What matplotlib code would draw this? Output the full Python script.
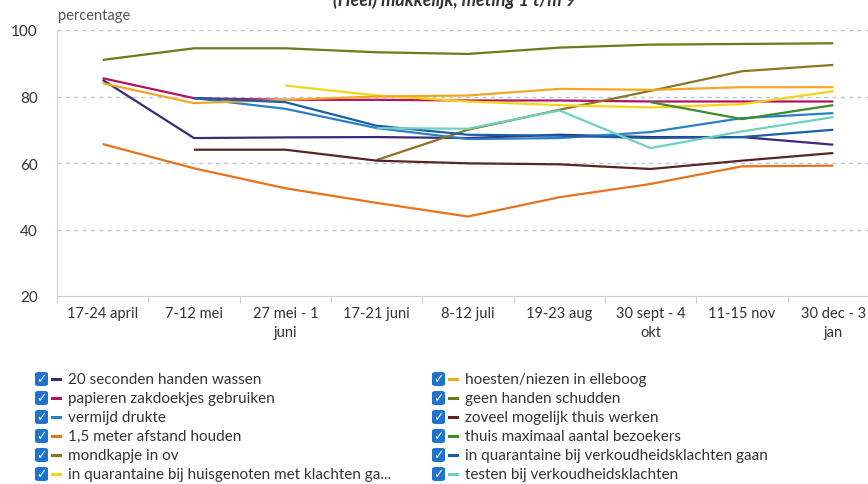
import numpy as np
import matplotlib
matplotlib.use("Agg")
import matplotlib.pyplot as plt
from matplotlib.patches import FancyBboxPatch
from matplotlib.lines import Line2D

nan = np.nan

categories = ["17-24 april", "7-12 mei", "27 mei - 1\njuni", "17-21 juni", "8-12 juli",
              "19-23 aug", "30 sept - 4\nokt", "11-15 nov", "30 dec - 3\njan"]

handen_wassen = [85, 67.5, 67.7, 67.8, 67.5, 68.5, 67.8, 67.8, 65.5]
zakdoekjes = [85.5, 79.5, 79, 79, 78.8, 78.8, 78.5, 78.5, 78.5]
vermijd_drukte = [nan, 79.5, 76.3, 70.5, 67.2, 67.5, 69.3, 73.5, 75]
afstand = [65.7, 58.4, 52.4, 48, 43.9, 49.7, 53.7, 59, 59.2]
mondkapje = [nan, nan, nan, 60.9, 70, 76, 81.7, 87.6, 89.5]
quarantaine_huisgenoten = [nan, nan, 83.3, 80.3, 78.5, 77.4, 76.7, 77.7, 81.6]
hoesten = [84, 78, 79, 80, 80.3, 82.3, 82, 82.8, 82.8]
geen_handen = [91, 94.5, 94.5, 93.3, 92.8, 94.7, 95.6, 95.8, 96]
thuiswerken = [nan, 64, 64, 60.7, 59.9, 59.6, 58.2, 60.7, 63]
bezoekers = [nan, nan, nan, nan, nan, nan, 78.3, 73.2, 77.4]
quarantaine_klachten = [nan, 79.5, 78.3, 71.2, 68.5, 68.2, 67.5, 67.8, 70]
testen = [nan, nan, nan, 70.5, 70.3, 75.8, 64.5, 69.5, 73.8]

series = [
    ("20 seconden handen wassen", handen_wassen, "#3b2a78"),
    ("papieren zakdoekjes gebruiken", zakdoekjes, "#b3125f"),
    ("vermijd drukte", vermijd_drukte, "#2a80c8"),
    ("1,5 meter afstand houden", afstand, "#e8731e"),
    ("mondkapje in ov", mondkapje, "#8c7420"),
    ("in quarantaine bij huisgenoten met klachten ga...", quarantaine_huisgenoten, "#f7d417"),
    ("hoesten/niezen in elleboog", hoesten, "#f5a623"),
    ("geen handen schudden", geen_handen, "#6b7a1a"),
    ("zoveel mogelijk thuis werken", thuiswerken, "#5a2424"),
    ("thuis maximaal aantal bezoekers", bezoekers, "#3c8c2c"),
    ("in quarantaine bij verkoudheidsklachten gaan", quarantaine_klachten, "#1a5fa5"),
    ("testen bij verkoudheidsklachten", testen, "#6fd0c0"),
]

plt.rcParams["font.family"] = ["Lato", "DejaVu Sans"]

W, H = 868, 485
fig = plt.figure(figsize=(W / 100, H / 100), dpi=100)

# axes runs a bit past the right edge, like the cropped original
ax = fig.add_axes([57 / W, 1 - 297 / H, 822 / W, 266 / H])
x = np.arange(len(categories))
for name, vals, col in series:
    ax.plot(x, vals, color=col, lw=1.6, solid_capstyle="butt")

ax.set_xlim(-0.5, len(categories) - 0.5)
ax.set_ylim(20, 100)
ax.set_yticks([20, 40, 60, 80, 100])
for v in [40, 60, 80, 100]:
    ax.axhline(v, color="#b9c7da", lw=1, ls=(0, (3, 3)), zorder=0)

ax.set_xticks(np.arange(len(categories) + 1) - 0.5, minor=False)
ax.set_xticklabels([])
ax.set_xticks(x, minor=True)
ax.set_xticklabels(categories, minor=True, fontsize=10.5, color="#333333", linespacing=1.45)
ax.tick_params(axis="x", which="major", length=5, color="#c8d0dc", direction="out")
ax.tick_params(axis="x", which="minor", length=0, pad=7)
ax.tick_params(axis="y", length=0, labelsize=11, labelcolor="#333333", pad=14)

for s in ["top", "right"]:
    ax.spines[s].set_visible(False)
ax.spines["left"].set_color("#c8d4e4")
ax.spines["bottom"].set_color("#c8d0dc")

fig.text(58 / W, 1 - 16 / H, "percentage", fontsize=10.5, color="#555555", va="center")
fig.text(455 / W, 1 - 0 / H, "(Heel) makkelijk, meting 1 t/m 9", fontsize=13,
         fontweight="bold", fontstyle="italic", color="#333333", ha="center", va="center")

# legend with checkbox icons
row_y = [380, 399, 418, 437, 456, 475]
col_x = [35, 432]
for i, (name, vals, col) in enumerate(series):
    cx = col_x[i // 6]
    cy = row_y[i % 6]
    box = FancyBboxPatch((cx / W, 1 - (cy + 7) / H), 13 / W, 14 / H,
                         boxstyle="round,pad=0,rounding_size=0.004",
                         transform=fig.transFigure, facecolor="#1e73cc",
                         edgecolor="none")
    fig.patches.append(box)
    fig.text((cx + 6.5) / W, 1 - cy / H, "\u2713", color="white", fontsize=9,
             fontweight="bold", ha="center", va="center", family="DejaVu Sans")
    fig.lines.append(Line2D([(cx + 17) / W, (cx + 25) / W], [1 - cy / H, 1 - cy / H],
                            transform=fig.transFigure, color=col, lw=2.2))
    fig.text((cx + 33) / W, 1 - cy / H, name, fontsize=11, color="#333333",
             va="center")

fig.savefig("out.png", dpi=100)
